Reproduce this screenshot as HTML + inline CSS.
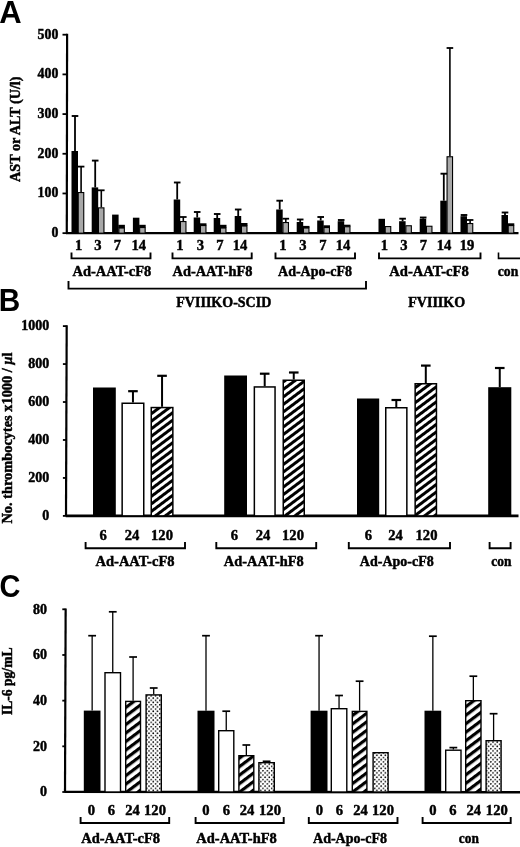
<!DOCTYPE html>
<html><head><meta charset="utf-8"><title>Figure</title>
<style>
html,body{margin:0;padding:0;background:#fff;}
body{width:520px;height:847px;overflow:hidden;font-family:"Liberation Serif",serif;}
svg{display:block;will-change:transform;}
svg text{fill:#000;stroke:#000;stroke-width:0.45px;}
</style></head><body>
<svg width="520" height="847" viewBox="0 0 520 847">
<defs>
<pattern id="hB" width="6" height="6" patternUnits="userSpaceOnUse" patternTransform="rotate(-37)">
<rect width="6" height="6" fill="#fff"/><rect y="0" width="6" height="3" fill="#000"/>
</pattern>
<pattern id="hC" width="6.8" height="6.8" patternUnits="userSpaceOnUse" patternTransform="rotate(-37)">
<rect width="6.8" height="6.8" fill="#fff"/><rect y="0" width="6.8" height="3.2" fill="#000"/>
</pattern>
<pattern id="dots" width="4.3" height="4.4" patternUnits="userSpaceOnUse">
<rect width="4.3" height="4.4" fill="#fff"/><circle cx="0.6" cy="0.6" r="0.85" fill="#000"/><circle cx="2.75" cy="2.8" r="0.85" fill="#000"/>
</pattern>
</defs>
<rect width="520" height="847" fill="#fff"/>

<g font-family="Liberation Serif, serif" font-weight="bold">
<text x="-0.8" y="22.7" font-size="31" stroke="none" style="stroke:none" font-family="Liberation Sans, sans-serif" font-weight="bold">A</text>
<text transform="translate(-1.2,311.4) scale(0.96,1)" font-size="31" style="stroke:none" font-family="Liberation Sans, sans-serif" font-weight="bold">B</text>
<text transform="translate(-0.4,596.8) scale(0.935,1)" font-size="31" style="stroke:none" font-family="Liberation Sans, sans-serif" font-weight="bold">C</text>
<path d="M67.1 33.800000000000004L66.8 233.15" stroke="#000" stroke-width="2.2" fill="none"/>
<path d="M66 233.15H518.5" stroke="#000" stroke-width="2.4" fill="none"/>
<path d="M62.5 233.15H67" stroke="#000" stroke-width="1.8"/>
<text x="58.3" y="237.05" font-size="13.8" text-anchor="end" >0</text>
<path d="M62.5 193.46H67" stroke="#000" stroke-width="1.8"/>
<text x="58.3" y="197.36" font-size="13.8" text-anchor="end" >100</text>
<path d="M62.5 153.77H67" stroke="#000" stroke-width="1.8"/>
<text x="58.3" y="157.67" font-size="13.8" text-anchor="end" >200</text>
<path d="M62.5 114.08000000000001H67" stroke="#000" stroke-width="1.8"/>
<text x="58.3" y="117.98" font-size="13.8" text-anchor="end" >300</text>
<path d="M62.5 74.39000000000001H67" stroke="#000" stroke-width="1.8"/>
<text x="58.3" y="78.29" font-size="13.8" text-anchor="end" >400</text>
<path d="M62.5 34.70000000000002H67" stroke="#000" stroke-width="1.8"/>
<text x="58.3" y="38.6" font-size="13.8" text-anchor="end" >500</text>
<text transform="translate(19.5,182) rotate(-90)" font-size="13.8" textLength="105.5" lengthAdjust="spacingAndGlyphs">AST or ALT (U/l)</text>
<rect x="71.5" y="151" width="6.5" height="82.15" fill="#000"/>
<rect x="78.25" y="192.55" width="5.499999999999995" height="40.60000000000001" fill="#a8a8a8" stroke="#000" stroke-width="1.1"/>
<path d="M75.0 151V116" stroke="#000" stroke-width="1.8" fill="none"/>
<path d="M71.7 116H78.3" stroke="#000" stroke-width="1.9" fill="none"/>
<path d="M81.1 192V166.6" stroke="#000" stroke-width="1.6" fill="none"/>
<path d="M77.8 166.6H84.39999999999999" stroke="#000" stroke-width="1.8" fill="none"/>
<rect x="91.7" y="187.4" width="6.5" height="45.75" fill="#000"/>
<rect x="98.45" y="207.85000000000002" width="5.499999999999995" height="25.299999999999994" fill="#a8a8a8" stroke="#000" stroke-width="1.1"/>
<path d="M95.2 187.4V160.6" stroke="#000" stroke-width="1.8" fill="none"/>
<path d="M91.9 160.6H98.5" stroke="#000" stroke-width="1.9" fill="none"/>
<path d="M101.3 207.3V190.3" stroke="#000" stroke-width="1.6" fill="none"/>
<path d="M98.0 190.3H104.6" stroke="#000" stroke-width="1.8" fill="none"/>
<rect x="112.10000000000001" y="214.6" width="6.5" height="18.55000000000001" fill="#000"/>
<rect x="118.85000000000001" y="228.05" width="5.499999999999995" height="5.100000000000006" fill="#a8a8a8" stroke="#000" stroke-width="1.1"/>
<rect x="118.30000000000001" y="224.8" width="6.6" height="3.2" fill="#000"/>
<rect x="132.89999999999998" y="217.7" width="6.5" height="15.450000000000017" fill="#000"/>
<rect x="139.65" y="227.55" width="5.499999999999995" height="5.600000000000006" fill="#a8a8a8" stroke="#000" stroke-width="1.1"/>
<rect x="139.1" y="224.8" width="6.6" height="2.7" fill="#000"/>
<rect x="173.7" y="199.5" width="6.5" height="33.650000000000006" fill="#000"/>
<rect x="180.45000000000002" y="221.55" width="5.499999999999995" height="11.600000000000005" fill="#a8a8a8" stroke="#000" stroke-width="1.1"/>
<path d="M177.2 199.5V182.5" stroke="#000" stroke-width="1.8" fill="none"/>
<path d="M173.89999999999998 182.5H180.5" stroke="#000" stroke-width="1.9" fill="none"/>
<path d="M183.3 221V217" stroke="#000" stroke-width="1.6" fill="none"/>
<path d="M180.0 217H186.60000000000002" stroke="#000" stroke-width="1.8" fill="none"/>
<rect x="193.7" y="217.5" width="6.5" height="15.650000000000006" fill="#000"/>
<rect x="200.45000000000002" y="225.55" width="5.499999999999995" height="7.600000000000006" fill="#a8a8a8" stroke="#000" stroke-width="1.1"/>
<path d="M197.2 217.5V212" stroke="#000" stroke-width="1.8" fill="none"/>
<path d="M193.89999999999998 212H200.5" stroke="#000" stroke-width="1.9" fill="none"/>
<rect x="199.9" y="223.3" width="6.6" height="2.2" fill="#000"/>
<rect x="213.7" y="218" width="6.5" height="15.150000000000006" fill="#000"/>
<rect x="220.45000000000002" y="228.05" width="5.499999999999995" height="5.100000000000006" fill="#a8a8a8" stroke="#000" stroke-width="1.1"/>
<path d="M217.2 218V214" stroke="#000" stroke-width="1.8" fill="none"/>
<path d="M213.89999999999998 214H220.5" stroke="#000" stroke-width="1.9" fill="none"/>
<rect x="219.9" y="224.8" width="6.6" height="3.2" fill="#000"/>
<rect x="234.7" y="216" width="6.5" height="17.150000000000006" fill="#000"/>
<rect x="241.45000000000002" y="226.05" width="5.499999999999995" height="7.100000000000006" fill="#a8a8a8" stroke="#000" stroke-width="1.1"/>
<path d="M238.2 216V209.5" stroke="#000" stroke-width="1.8" fill="none"/>
<path d="M234.89999999999998 209.5H241.5" stroke="#000" stroke-width="1.9" fill="none"/>
<rect x="240.9" y="223.0" width="6.6" height="3.0000000000000115" fill="#000"/>
<rect x="276.2" y="209.5" width="6.5" height="23.650000000000006" fill="#000"/>
<rect x="282.95" y="222.55" width="5.500000000000023" height="10.600000000000005" fill="#a8a8a8" stroke="#000" stroke-width="1.1"/>
<path d="M279.7 209.5V200.7" stroke="#000" stroke-width="1.8" fill="none"/>
<path d="M276.4 200.7H283.0" stroke="#000" stroke-width="1.9" fill="none"/>
<path d="M285.8 222V218.7" stroke="#000" stroke-width="1.6" fill="none"/>
<path d="M282.5 218.7H289.1" stroke="#000" stroke-width="1.8" fill="none"/>
<rect x="296.7" y="222" width="6.5" height="11.150000000000006" fill="#000"/>
<rect x="303.45" y="228.05" width="5.500000000000023" height="5.100000000000006" fill="#a8a8a8" stroke="#000" stroke-width="1.1"/>
<path d="M300.2 222V219.5" stroke="#000" stroke-width="1.8" fill="none"/>
<path d="M296.9 219.5H303.5" stroke="#000" stroke-width="1.9" fill="none"/>
<rect x="302.9" y="225.9" width="6.6" height="2.100000000000006" fill="#000"/>
<rect x="317.2" y="220.5" width="6.5" height="12.650000000000006" fill="#000"/>
<rect x="323.95" y="227.55" width="5.500000000000023" height="5.600000000000006" fill="#a8a8a8" stroke="#000" stroke-width="1.1"/>
<path d="M320.7 220.5V217" stroke="#000" stroke-width="1.8" fill="none"/>
<path d="M317.4 217H324.0" stroke="#000" stroke-width="1.9" fill="none"/>
<rect x="323.4" y="225.3" width="6.6" height="2.2" fill="#000"/>
<rect x="337.7" y="221.2" width="6.5" height="11.950000000000017" fill="#000"/>
<rect x="344.45" y="226.75" width="5.500000000000023" height="6.400000000000017" fill="#a8a8a8" stroke="#000" stroke-width="1.1"/>
<path d="M341.2 221.2V220" stroke="#000" stroke-width="1.8" fill="none"/>
<path d="M337.9 220H344.5" stroke="#000" stroke-width="1.9" fill="none"/>
<rect x="343.9" y="224.70000000000002" width="6.6" height="1.999999999999983" fill="#000"/>
<rect x="378.5" y="218.8" width="6.5" height="14.349999999999994" fill="#000"/>
<rect x="385.25" y="226.55" width="5.500000000000023" height="6.600000000000006" fill="#a8a8a8" stroke="#000" stroke-width="1.1"/>
<rect x="399.09999999999997" y="221.2" width="6.5" height="11.950000000000017" fill="#000"/>
<rect x="405.84999999999997" y="225.75" width="5.500000000000023" height="7.400000000000017" fill="#a8a8a8" stroke="#000" stroke-width="1.1"/>
<path d="M402.59999999999997 221.2V218.7" stroke="#000" stroke-width="1.8" fill="none"/>
<path d="M399.29999999999995 218.7H405.9" stroke="#000" stroke-width="1.9" fill="none"/>
<rect x="419.7" y="218.7" width="6.5" height="14.450000000000017" fill="#000"/>
<rect x="426.45" y="226.25" width="5.500000000000023" height="6.900000000000017" fill="#a8a8a8" stroke="#000" stroke-width="1.1"/>
<path d="M423.2 218.7V217.5" stroke="#000" stroke-width="1.8" fill="none"/>
<path d="M419.9 217.5H426.5" stroke="#000" stroke-width="1.9" fill="none"/>
<rect x="440.3" y="200.7" width="6.5" height="32.45000000000002" fill="#000"/>
<rect x="447.05" y="156.75" width="5.500000000000023" height="76.40000000000002" fill="#a8a8a8" stroke="#000" stroke-width="1.1"/>
<path d="M443.8 200.7V173.7" stroke="#000" stroke-width="1.8" fill="none"/>
<path d="M440.5 173.7H447.1" stroke="#000" stroke-width="1.9" fill="none"/>
<path d="M449.90000000000003 156.2V48" stroke="#000" stroke-width="1.6" fill="none"/>
<path d="M446.6 48H453.20000000000005" stroke="#000" stroke-width="1.8" fill="none"/>
<rect x="460.5" y="216.2" width="6.5" height="16.950000000000017" fill="#000"/>
<rect x="467.25" y="223.55" width="5.500000000000023" height="9.600000000000005" fill="#a8a8a8" stroke="#000" stroke-width="1.1"/>
<path d="M464.0 216.2V215" stroke="#000" stroke-width="1.8" fill="none"/>
<path d="M460.7 215H467.3" stroke="#000" stroke-width="1.9" fill="none"/>
<path d="M470.1 223V220" stroke="#000" stroke-width="1.6" fill="none"/>
<path d="M466.8 220H473.40000000000003" stroke="#000" stroke-width="1.8" fill="none"/>
<rect x="501.5" y="215" width="6.5" height="18.150000000000006" fill="#000"/>
<rect x="508.25" y="225.55" width="5.499999999999966" height="7.600000000000006" fill="#a8a8a8" stroke="#000" stroke-width="1.1"/>
<path d="M505.0 215V212.5" stroke="#000" stroke-width="1.8" fill="none"/>
<path d="M501.7 212.5H508.3" stroke="#000" stroke-width="1.9" fill="none"/>
<rect x="507.7" y="223.3" width="6.6" height="2.2" fill="#000"/>
<text x="78.7" y="250.3" font-size="14.5" text-anchor="middle" textLength="7.3" lengthAdjust="spacingAndGlyphs" >1</text>
<text x="98" y="250.3" font-size="14.5" text-anchor="middle" textLength="7.3" lengthAdjust="spacingAndGlyphs" >3</text>
<text x="117.5" y="250.3" font-size="14.5" text-anchor="middle" textLength="7.3" lengthAdjust="spacingAndGlyphs" >7</text>
<text x="138.7" y="250.3" font-size="14.5" text-anchor="middle" textLength="14.6" lengthAdjust="spacingAndGlyphs" >14</text>
<text x="180" y="250.3" font-size="14.5" text-anchor="middle" textLength="7.3" lengthAdjust="spacingAndGlyphs" >1</text>
<text x="200.5" y="250.3" font-size="14.5" text-anchor="middle" textLength="7.3" lengthAdjust="spacingAndGlyphs" >3</text>
<text x="220" y="250.3" font-size="14.5" text-anchor="middle" textLength="7.3" lengthAdjust="spacingAndGlyphs" >7</text>
<text x="240" y="250.3" font-size="14.5" text-anchor="middle" textLength="14.6" lengthAdjust="spacingAndGlyphs" >14</text>
<text x="283" y="250.3" font-size="14.5" text-anchor="middle" textLength="7.3" lengthAdjust="spacingAndGlyphs" >1</text>
<text x="303" y="250.3" font-size="14.5" text-anchor="middle" textLength="7.3" lengthAdjust="spacingAndGlyphs" >3</text>
<text x="323" y="250.3" font-size="14.5" text-anchor="middle" textLength="7.3" lengthAdjust="spacingAndGlyphs" >7</text>
<text x="343" y="250.3" font-size="14.5" text-anchor="middle" textLength="14.6" lengthAdjust="spacingAndGlyphs" >14</text>
<text x="384.3" y="250.3" font-size="14.5" text-anchor="middle" textLength="7.3" lengthAdjust="spacingAndGlyphs" >1</text>
<text x="403.8" y="250.3" font-size="14.5" text-anchor="middle" textLength="7.3" lengthAdjust="spacingAndGlyphs" >3</text>
<text x="423.5" y="250.3" font-size="14.5" text-anchor="middle" textLength="7.3" lengthAdjust="spacingAndGlyphs" >7</text>
<text x="444" y="250.3" font-size="14.5" text-anchor="middle" textLength="14.6" lengthAdjust="spacingAndGlyphs" >14</text>
<text x="467" y="250.3" font-size="14.5" text-anchor="middle" textLength="14.6" lengthAdjust="spacingAndGlyphs" >19</text>
<path d="M71.5 252.5V258.4H150.5V252.5" fill="none" stroke="#000" stroke-width="1.9"/>
<path d="M172.5 252.5V258.4H251.7V252.5" fill="none" stroke="#000" stroke-width="1.9"/>
<path d="M275.5 252.5V258.4H355V252.5" fill="none" stroke="#000" stroke-width="1.9"/>
<path d="M379 252.5V258.4H480.5V252.5" fill="none" stroke="#000" stroke-width="1.9"/>
<path d="M498.5 252.5V258.4H521" fill="none" stroke="#000" stroke-width="1.6"/>
<text x="72.5" y="276" font-size="14.3" text-anchor="start" textLength="78.8" lengthAdjust="spacingAndGlyphs" >Ad-AAT-cF8</text>
<text x="172.5" y="276" font-size="14.3" text-anchor="start" textLength="80" lengthAdjust="spacingAndGlyphs" >Ad-AAT-hF8</text>
<text x="278" y="276" font-size="14.3" text-anchor="start" textLength="74" lengthAdjust="spacingAndGlyphs" >Ad-Apo-cF8</text>
<text x="389.2" y="276" font-size="14.3" text-anchor="start" textLength="79.6" lengthAdjust="spacingAndGlyphs" >Ad-AAT-cF8</text>
<text x="497.8" y="276" font-size="14.3" text-anchor="start" textLength="20.5" lengthAdjust="spacingAndGlyphs" >con</text>
<path d="M68.5 281V288.6H366V281" fill="none" stroke="#000" stroke-width="1.9"/>
<text x="176.3" y="307" font-size="13.7" text-anchor="start" textLength="95" lengthAdjust="spacingAndGlyphs" >FVIIIKO-SCID</text>
<text x="408.2" y="307" font-size="13.7" text-anchor="start" textLength="57" lengthAdjust="spacingAndGlyphs" >FVIIIKO</text>
<path d="M66.7 325.20000000000005L66.0 515.9" stroke="#000" stroke-width="2.2" fill="none"/>
<path d="M65.7 515.9H518.5" stroke="#000" stroke-width="2.7" fill="none"/>
<path d="M62.900000000000006 515.9H66.7" stroke="#000" stroke-width="1.8"/>
<text x="49.2" y="520.1" font-size="14" text-anchor="end" >0</text>
<path d="M62.900000000000006 477.94H66.7" stroke="#000" stroke-width="1.8"/>
<text x="49.2" y="482.14" font-size="14" text-anchor="end" >200</text>
<path d="M62.900000000000006 439.98H66.7" stroke="#000" stroke-width="1.8"/>
<text x="49.2" y="444.18" font-size="14" text-anchor="end" >400</text>
<path d="M62.900000000000006 402.02H66.7" stroke="#000" stroke-width="1.8"/>
<text x="49.2" y="406.22" font-size="14" text-anchor="end" >600</text>
<path d="M62.900000000000006 364.06H66.7" stroke="#000" stroke-width="1.8"/>
<text x="49.2" y="368.26" font-size="14" text-anchor="end" >800</text>
<path d="M62.900000000000006 326.1H66.7" stroke="#000" stroke-width="1.8"/>
<text x="49.2" y="330.3" font-size="14" text-anchor="end" >1000</text>
<text transform="translate(12.3,523.6) rotate(-90)" font-size="13.6" textLength="171" lengthAdjust="spacingAndGlyphs">No. thrombocytes x1000 / <tspan font-style="italic">μ</tspan>l</text>
<rect x="93" y="387.5" width="22.799999999999997" height="128.39999999999998" fill="#000"/>
<rect x="122.15" y="403.25" width="21.599999999999994" height="112.64999999999998" fill="#fff" stroke="#000" stroke-width="1.5"/>
<path d="M132.95 402.5V391.2" stroke="#000" stroke-width="2" fill="none"/>
<path d="M128.14999999999998 391.2H137.75" stroke="#000" stroke-width="2.2" fill="none"/>
<rect x="151.25" y="407.55" width="21.599999999999994" height="108.34999999999997" fill="url(#hB)" stroke="#000" stroke-width="1.5"/>
<path d="M162.05 406.8V375.8" stroke="#000" stroke-width="2" fill="none"/>
<path d="M157.25 375.8H166.85000000000002" stroke="#000" stroke-width="2.2" fill="none"/>
<rect x="224.2" y="375.5" width="22.80000000000001" height="140.39999999999998" fill="#000"/>
<rect x="254.35" y="386.95" width="20.700000000000017" height="128.95" fill="#fff" stroke="#000" stroke-width="1.5"/>
<path d="M264.7 386.2V373.7" stroke="#000" stroke-width="2" fill="none"/>
<path d="M259.9 373.7H269.5" stroke="#000" stroke-width="2.2" fill="none"/>
<rect x="283.25" y="380.25" width="21.0" height="135.64999999999998" fill="url(#hB)" stroke="#000" stroke-width="1.5"/>
<path d="M293.75 379.5V372.5" stroke="#000" stroke-width="2" fill="none"/>
<path d="M288.95 372.5H298.55" stroke="#000" stroke-width="2.2" fill="none"/>
<rect x="357" y="398.5" width="22.19999999999999" height="117.39999999999998" fill="#000"/>
<rect x="385.75" y="407.75" width="21.100000000000023" height="108.14999999999998" fill="#fff" stroke="#000" stroke-width="1.5"/>
<path d="M396.3 407V400" stroke="#000" stroke-width="2" fill="none"/>
<path d="M391.5 400H401.1" stroke="#000" stroke-width="2.2" fill="none"/>
<rect x="415.15" y="383.75" width="21.30000000000001" height="132.14999999999998" fill="url(#hB)" stroke="#000" stroke-width="1.5"/>
<path d="M425.79999999999995 383V365.6" stroke="#000" stroke-width="2" fill="none"/>
<path d="M420.99999999999994 365.6H430.59999999999997" stroke="#000" stroke-width="2.2" fill="none"/>
<rect x="488.2" y="387.2" width="23.100000000000023" height="128.7" fill="#000"/>
<path d="M499.75 387.2V368" stroke="#000" stroke-width="2" fill="none"/>
<path d="M494.95 368H504.55" stroke="#000" stroke-width="2.2" fill="none"/>
<text x="103.2" y="540.2" font-size="14.5" text-anchor="middle" textLength="7.3" lengthAdjust="spacingAndGlyphs" >6</text>
<text x="132" y="540.2" font-size="14.5" text-anchor="middle" textLength="14.6" lengthAdjust="spacingAndGlyphs" >24</text>
<text x="162" y="540.2" font-size="14.5" text-anchor="middle" textLength="21.9" lengthAdjust="spacingAndGlyphs" >120</text>
<text x="234.5" y="540.2" font-size="14.5" text-anchor="middle" textLength="7.3" lengthAdjust="spacingAndGlyphs" >6</text>
<text x="263" y="540.2" font-size="14.5" text-anchor="middle" textLength="14.6" lengthAdjust="spacingAndGlyphs" >24</text>
<text x="293" y="540.2" font-size="14.5" text-anchor="middle" textLength="21.9" lengthAdjust="spacingAndGlyphs" >120</text>
<text x="368.4" y="540.2" font-size="14.5" text-anchor="middle" textLength="7.3" lengthAdjust="spacingAndGlyphs" >6</text>
<text x="395.6" y="540.2" font-size="14.5" text-anchor="middle" textLength="14.6" lengthAdjust="spacingAndGlyphs" >24</text>
<text x="426.5" y="540.2" font-size="14.5" text-anchor="middle" textLength="21.9" lengthAdjust="spacingAndGlyphs" >120</text>
<path d="M85.6 542V548.2H185V542" fill="none" stroke="#000" stroke-width="1.9"/>
<path d="M216.3 542V548.2H316.2V542" fill="none" stroke="#000" stroke-width="1.9"/>
<path d="M348.8 542V548.2H450V542" fill="none" stroke="#000" stroke-width="1.9"/>
<path d="M489.6 542V548.2H510.6V542" fill="none" stroke="#000" stroke-width="1.9"/>
<text x="95.5" y="566.2" font-size="14.3" text-anchor="start" textLength="79" lengthAdjust="spacingAndGlyphs" >Ad-AAT-cF8</text>
<text x="223.8" y="566.2" font-size="14.3" text-anchor="start" textLength="80" lengthAdjust="spacingAndGlyphs" >Ad-AAT-hF8</text>
<text x="359.8" y="566.2" font-size="14.3" text-anchor="start" textLength="74" lengthAdjust="spacingAndGlyphs" >Ad-Apo-cF8</text>
<text x="491.2" y="566.2" font-size="14.3" text-anchor="start" textLength="20.2" lengthAdjust="spacingAndGlyphs" >con</text>
<path d="M65.64999999999999 608.4L65.0 792.0" stroke="#000" stroke-width="2.2" fill="none"/>
<path d="M64.6 791.9L521 792.3" stroke="#000" stroke-width="2.4" fill="none"/>
<path d="M62.3 792.0H65.6" stroke="#000" stroke-width="1.8"/>
<text x="47.0" y="796.2" font-size="14" text-anchor="end" >0</text>
<path d="M62.3 746.325H65.6" stroke="#000" stroke-width="1.8"/>
<text x="47.0" y="750.53" font-size="14" text-anchor="end" >20</text>
<path d="M62.3 700.65H65.6" stroke="#000" stroke-width="1.8"/>
<text x="47.0" y="704.85" font-size="14" text-anchor="end" >40</text>
<path d="M62.3 654.9749999999999H65.6" stroke="#000" stroke-width="1.8"/>
<text x="47.0" y="659.17" font-size="14" text-anchor="end" >60</text>
<path d="M62.3 609.3H65.6" stroke="#000" stroke-width="1.8"/>
<text x="47.0" y="613.5" font-size="14" text-anchor="end" >80</text>
<text transform="translate(12.2,715) rotate(-90)" font-size="13.6" textLength="67.5" lengthAdjust="spacingAndGlyphs">IL-6 pg/mL</text>
<rect x="83.8" y="710.6" width="16.700000000000003" height="81.39999999999998" fill="#000"/>
<path d="M92.15 710.6V635.7" stroke="#000" stroke-width="1.3" fill="none"/>
<path d="M88.25 635.7H96.05000000000001" stroke="#000" stroke-width="1.7" fill="none"/>
<rect x="105.0" y="672.7" width="15.500000000000005" height="119.3" fill="#fff" stroke="#000" stroke-width="1.4"/>
<path d="M112.75 672V611.8" stroke="#000" stroke-width="1.3" fill="none"/>
<path d="M108.85 611.8H116.65" stroke="#000" stroke-width="1.7" fill="none"/>
<rect x="125.7" y="701.4000000000001" width="14.799999999999988" height="90.59999999999995" fill="url(#hC)" stroke="#000" stroke-width="1.4"/>
<path d="M133.1 700.7V657" stroke="#000" stroke-width="1.3" fill="none"/>
<path d="M129.2 657H137.0" stroke="#000" stroke-width="1.7" fill="none"/>
<rect x="146.1" y="694.9000000000001" width="15.199999999999994" height="97.09999999999995" fill="url(#dots)" stroke="#000" stroke-width="1.4"/>
<path d="M153.7 694.2V688" stroke="#000" stroke-width="1.3" fill="none"/>
<path d="M149.79999999999998 688H157.6" stroke="#000" stroke-width="1.7" fill="none"/>
<rect x="197.5" y="710.7" width="17.0" height="81.29999999999995" fill="#000"/>
<path d="M206.0 710.7V635.7" stroke="#000" stroke-width="1.3" fill="none"/>
<path d="M202.1 635.7H209.9" stroke="#000" stroke-width="1.7" fill="none"/>
<rect x="218.7" y="730.7" width="15.1" height="61.3" fill="#fff" stroke="#000" stroke-width="1.4"/>
<path d="M226.25 730V711.2" stroke="#000" stroke-width="1.3" fill="none"/>
<path d="M222.35 711.2H230.15" stroke="#000" stroke-width="1.7" fill="none"/>
<rect x="238.89999999999998" y="755.7" width="14.900000000000011" height="36.3" fill="url(#hC)" stroke="#000" stroke-width="1.4"/>
<path d="M246.35 755V745" stroke="#000" stroke-width="1.3" fill="none"/>
<path d="M242.45 745H250.25" stroke="#000" stroke-width="1.7" fill="none"/>
<rect x="258.9" y="762.7" width="15.400000000000011" height="29.3" fill="url(#dots)" stroke="#000" stroke-width="1.4"/>
<path d="M266.6 762V761.3" stroke="#000" stroke-width="1.3" fill="none"/>
<path d="M262.70000000000005 761.3H270.5" stroke="#000" stroke-width="1.7" fill="none"/>
<rect x="310.6" y="710.7" width="16.899999999999977" height="81.29999999999995" fill="#000"/>
<path d="M319.05 710.7V635.7" stroke="#000" stroke-width="1.3" fill="none"/>
<path d="M315.15000000000003 635.7H322.95" stroke="#000" stroke-width="1.7" fill="none"/>
<rect x="331.3" y="708.7" width="15.499999999999977" height="83.3" fill="#fff" stroke="#000" stroke-width="1.4"/>
<path d="M339.05 708V695.5" stroke="#000" stroke-width="1.3" fill="none"/>
<path d="M335.15000000000003 695.5H342.95" stroke="#000" stroke-width="1.7" fill="none"/>
<rect x="352.3" y="711.4000000000001" width="14.6" height="80.59999999999995" fill="url(#hC)" stroke="#000" stroke-width="1.4"/>
<path d="M359.6 710.7V681.2" stroke="#000" stroke-width="1.3" fill="none"/>
<path d="M355.70000000000005 681.2H363.5" stroke="#000" stroke-width="1.7" fill="none"/>
<rect x="373.09999999999997" y="752.7" width="15.000000000000034" height="39.3" fill="url(#dots)" stroke="#000" stroke-width="1.4"/>
<rect x="424.5" y="710.7" width="16.69999999999999" height="81.29999999999995" fill="#000"/>
<path d="M432.85 710.7V636.2" stroke="#000" stroke-width="1.3" fill="none"/>
<path d="M428.95000000000005 636.2H436.75" stroke="#000" stroke-width="1.7" fill="none"/>
<rect x="445.7" y="750.2" width="15.299999999999988" height="41.8" fill="#fff" stroke="#000" stroke-width="1.4"/>
<path d="M453.35 749.5V747.6" stroke="#000" stroke-width="1.3" fill="none"/>
<path d="M449.45000000000005 747.6H457.25" stroke="#000" stroke-width="1.7" fill="none"/>
<rect x="465.7" y="700.7" width="15.299999999999988" height="91.3" fill="url(#hC)" stroke="#000" stroke-width="1.4"/>
<path d="M473.35 700V676.2" stroke="#000" stroke-width="1.3" fill="none"/>
<path d="M469.45000000000005 676.2H477.25" stroke="#000" stroke-width="1.7" fill="none"/>
<rect x="486.09999999999997" y="740.7" width="15.000000000000034" height="51.3" fill="url(#dots)" stroke="#000" stroke-width="1.4"/>
<path d="M493.6 740V713.7" stroke="#000" stroke-width="1.3" fill="none"/>
<path d="M489.70000000000005 713.7H497.5" stroke="#000" stroke-width="1.7" fill="none"/>
<text x="91.3" y="814.5" font-size="14.5" text-anchor="middle" textLength="7.3" lengthAdjust="spacingAndGlyphs" >0</text>
<text x="111.3" y="814.5" font-size="14.5" text-anchor="middle" textLength="7.3" lengthAdjust="spacingAndGlyphs" >6</text>
<text x="132.5" y="814.5" font-size="14.5" text-anchor="middle" textLength="14.6" lengthAdjust="spacingAndGlyphs" >24</text>
<text x="155" y="814.5" font-size="14.5" text-anchor="middle" textLength="21.9" lengthAdjust="spacingAndGlyphs" >120</text>
<text x="205.8" y="814.5" font-size="14.5" text-anchor="middle" textLength="7.3" lengthAdjust="spacingAndGlyphs" >0</text>
<text x="226.3" y="814.5" font-size="14.5" text-anchor="middle" textLength="7.3" lengthAdjust="spacingAndGlyphs" >6</text>
<text x="247" y="814.5" font-size="14.5" text-anchor="middle" textLength="14.6" lengthAdjust="spacingAndGlyphs" >24</text>
<text x="270" y="814.5" font-size="14.5" text-anchor="middle" textLength="21.9" lengthAdjust="spacingAndGlyphs" >120</text>
<text x="319.5" y="814.5" font-size="14.5" text-anchor="middle" textLength="7.3" lengthAdjust="spacingAndGlyphs" >0</text>
<text x="339.5" y="814.5" font-size="14.5" text-anchor="middle" textLength="7.3" lengthAdjust="spacingAndGlyphs" >6</text>
<text x="360.5" y="814.5" font-size="14.5" text-anchor="middle" textLength="14.6" lengthAdjust="spacingAndGlyphs" >24</text>
<text x="383" y="814.5" font-size="14.5" text-anchor="middle" textLength="21.9" lengthAdjust="spacingAndGlyphs" >120</text>
<text x="433" y="814.5" font-size="14.5" text-anchor="middle" textLength="7.3" lengthAdjust="spacingAndGlyphs" >0</text>
<text x="453" y="814.5" font-size="14.5" text-anchor="middle" textLength="7.3" lengthAdjust="spacingAndGlyphs" >6</text>
<text x="473.8" y="814.5" font-size="14.5" text-anchor="middle" textLength="14.6" lengthAdjust="spacingAndGlyphs" >24</text>
<text x="496.8" y="814.5" font-size="14.5" text-anchor="middle" textLength="21.9" lengthAdjust="spacingAndGlyphs" >120</text>
<path d="M80.6 817V823H169.2V817" fill="none" stroke="#000" stroke-width="1.9"/>
<path d="M195.6 817V823H283.7V817" fill="none" stroke="#000" stroke-width="1.9"/>
<path d="M308.8 817V823H397.5V817" fill="none" stroke="#000" stroke-width="1.9"/>
<path d="M422.6 817V823H510.7V817" fill="none" stroke="#000" stroke-width="1.9"/>
<text x="81.3" y="842.5" font-size="14.3" text-anchor="start" textLength="78.8" lengthAdjust="spacingAndGlyphs" >Ad-AAT-cF8</text>
<text x="196.3" y="842.5" font-size="14.3" text-anchor="start" textLength="80.5" lengthAdjust="spacingAndGlyphs" >Ad-AAT-hF8</text>
<text x="313" y="842.5" font-size="14.3" text-anchor="start" textLength="74" lengthAdjust="spacingAndGlyphs" >Ad-Apo-cF8</text>
<text x="458.8" y="842.5" font-size="14.3" text-anchor="start" textLength="20" lengthAdjust="spacingAndGlyphs" >con</text>
</g>
</svg></body></html>
